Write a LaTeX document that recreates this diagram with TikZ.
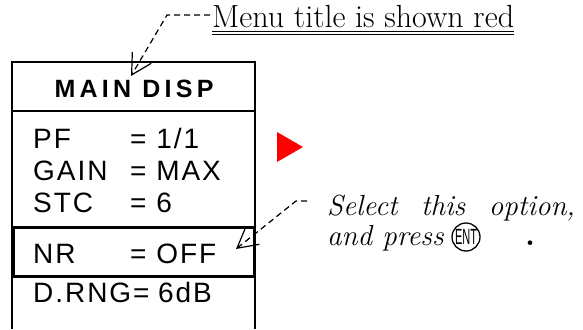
\documentclass[tikz,border=0pt]{standalone}
\usepackage{fontspec}
\usepackage{graphicx}
\usetikzlibrary{arrows.meta, positioning}
\newfontfamily\dispfont{Liberation Sans}[LetterSpace=7]
\newfontfamily\titlefont{Liberation Sans}[LetterSpace=17]
\newfontfamily\keyfont{Liberation Sans}

\begin{document}
\begin{tikzpicture}[
  x=1pt, y=-1pt,
  >={Straight Barb[length=20pt,width=22pt]},
  disp/.style={anchor=base west, inner sep=0pt,
    font=\dispfont\fontsize{28}{32}\selectfont},
  note/.style={anchor=base west, inner sep=0pt,
    font=\fontsize{32}{34}\selectfont},
  callout/.style={->, line width=1.2pt, dash pattern=on 6pt off 4pt}
]
\useasboundingbox (0,0) rectangle (583,329);

% Menu frame
\draw[line width=2pt] (12,329) -- (12,62) -- (255,62) -- (255,329);
\draw[line width=1.5pt] (12,111) -- (255,111);
\node[anchor=base, inner sep=0pt,
  font=\titlefont\bfseries\fontsize{25}{28}\selectfont] (title) at (134,97) {MAIN DISP};

% Menu items
\node[disp] (pf)    at (33,148)  {PF};
\node[disp] (pfv)   at (130,148) {= 1/1};
\node[disp] (gain)  at (33,180)  {GAIN};
\node[disp] (gainv) at (130,180) {= MAX};
\node[disp] (stc)   at (33,212)  {STC};
\node[disp] (stcv)  at (130,212) {= 6};
\node[disp] (nr)    at (33,263)  {NR};
\node[disp] (nrv)   at (130,263) {= OFF};
\node[disp] (drng)  at (33,302)  {D.RNG=};
\node[disp] (drngv) at (158,302) {6dB};

% Selected item
\node[draw, line width=3pt, anchor=north west, inner sep=0pt,
  minimum width=241, minimum height=49] (nrbox) at (12,226) {};

% Cursor
\fill[red] (277,132) -- (303,147) -- (277,162) -- cycle;

% Notes
\node[note] (menunote) at (212,28) {Menu title is shown red};
\draw[line width=0.9pt] ([yshift=-3.5pt]menunote.base west) -- ([yshift=-3.5pt]menunote.base east);
\draw[line width=0.9pt] ([yshift=-6pt]menunote.base west) -- ([yshift=-6pt]menunote.base east);

\node[note, font=\itshape\fontsize{29}{32}\selectfont] (selnote) at (327,215)
  {\makebox[248pt][s]{Select this option,}};
\node[note, font=\itshape\fontsize{29}{32}\selectfont] (pressnote) at (327,245) {and press};
\node[inner sep=0pt, font=\keyfont\fontsize{22}{22}\selectfont] (entkey) at (466,237)
  {\scalebox{0.5}[1]{ENT}};
\draw[line width=1.3pt] (entkey.center) circle[radius=14pt];
\node[note, font=\bfseries\fontsize{32}{32}\selectfont] (dot) at (525,245) {.};

% Callouts
\coordinate (titletip) at (131,76);
\coordinate (nrtip) at (236,249);
\draw[callout] ([xshift=-2pt, yshift=13pt]menunote.base west) -- ++(-43,0) -- (titletip);
\draw[callout] ([xshift=-20pt, yshift=14pt]selnote.base west) -- ++(-11,0) -- (nrtip);

\end{tikzpicture}
\end{document}
